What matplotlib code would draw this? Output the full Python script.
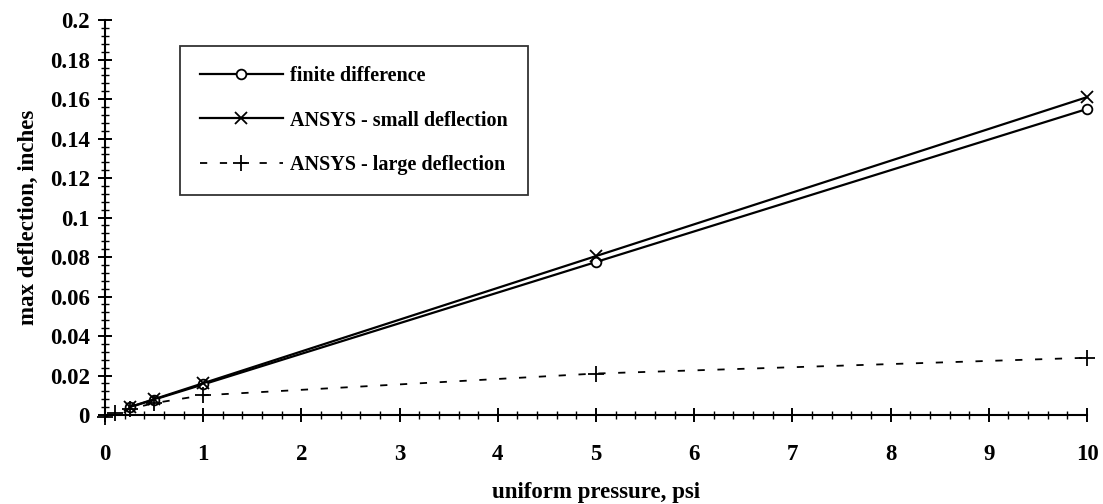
import matplotlib
matplotlib.use("Agg")
import matplotlib.pyplot as plt
from matplotlib.ticker import MultipleLocator, FixedLocator

plt.rcParams['font.family'] = ['Liberation Serif', 'DejaVu Serif']
plt.rcParams['font.weight'] = 'bold'

# data
x_fd = [0.25, 0.5, 1, 5, 10]
y_fd = [0.0039, 0.0078, 0.0155, 0.0775, 0.155]
x_small = [0.25, 0.5, 1, 5, 10]
y_small = [0.0040, 0.0080, 0.0161, 0.0805, 0.161]
x_large = [0, 0.1, 0.25, 0.5, 1, 5, 10]
y_large = [-0.001, 0.001, 0.003, 0.006, 0.010, 0.021, 0.029]

x_ticks = [0, 1, 2, 3, 4, 5, 6, 7, 8, 9, 10]
y_ticks = [0, 0.02, 0.04, 0.06, 0.08, 0.1, 0.12, 0.14, 0.16, 0.18, 0.2]
y_tick_labels = ['0', '0.02', '0.04', '0.06', '0.08', '0.1', '0.12', '0.14', '0.16', '0.18', '0.2']

fig = plt.figure(figsize=(11.03, 5.04), dpi=100)
ax = fig.add_axes([0.0952, 0.1766, 0.8903, 0.7834])

ax.plot(x_fd, y_fd, color='black', lw=1.6, marker='o', ms=7, mfc='white', mec='black', mew=1.3,
        label='finite difference')
ax.plot(x_small, y_small, color='black', lw=1.6, marker='x', ms=9, mew=1.3,
        label='ANSYS - small deflection')
ax.plot(x_large, y_large, color='black', lw=1.3, ls=(0, (4, 7)), marker='+', ms=11, mew=1.3,
        label='ANSYS - large deflection')

ax.set_xlim(0, 10)
ax.set_ylim(0, 0.2)
for s in ['top', 'right']:
    ax.spines[s].set_visible(False)
ax.spines['left'].set_linewidth(1.5)
ax.spines['bottom'].set_linewidth(1.5)
for l in ax.lines:
    l.set_clip_on(False)

ax.xaxis.set_major_locator(FixedLocator(x_ticks))
ax.xaxis.set_minor_locator(MultipleLocator(0.2))
ax.yaxis.set_major_locator(FixedLocator(y_ticks))
ax.yaxis.set_minor_locator(MultipleLocator(0.004))
ax.set_xticklabels([str(v) for v in x_ticks])
ax.set_yticklabels(y_tick_labels)
ax.tick_params(which='major', direction='inout', length=10, width=1.4, labelsize=16.5, pad=6)
ax.tick_params(which='minor', direction='inout', length=6, width=1.0)
ax.tick_params(axis='x', which='major', pad=16)
for lab in ax.get_xticklabels() + ax.get_yticklabels():
    lab.set_fontweight('bold')

ax.set_xlabel('uniform pressure, psi', fontsize=16.5, fontweight='bold', labelpad=12)
ax.set_ylabel('max deflection, inches', fontsize=16.5, fontweight='bold', labelpad=8)

leg = ax.legend(loc='upper left', bbox_to_anchor=(0.0764, 0.934), frameon=True, fancybox=False,
                edgecolor='black', handlelength=4.1, handletextpad=0.35,
                borderpad=1.0, labelspacing=1.2, borderaxespad=0,
                prop={'weight': 'bold', 'size': 14.5})
leg.get_frame().set_linewidth(1.3)

fig.savefig('out.png', dpi=100)
